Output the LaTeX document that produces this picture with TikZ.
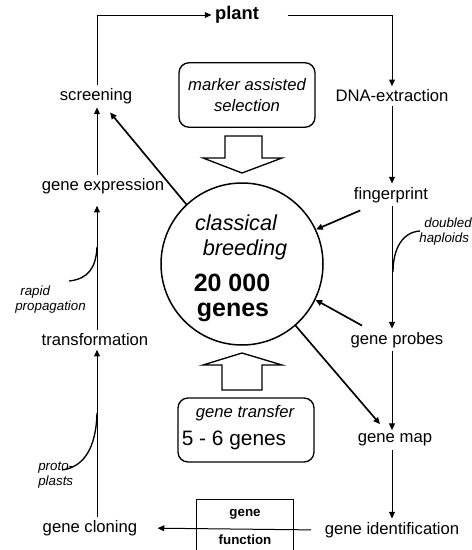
\documentclass[tikz,border=0pt]{standalone}
\usepackage{fontspec}
\setmainfont{Liberation Sans}
\usetikzlibrary{arrows.meta,positioning}

\tikzset{
  lbl/.style={font=\fontsize{10}{12}\selectfont, inner sep=2pt},
  note/.style={font=\fontsize{8}{9}\selectfont\itshape, align=left, inner sep=0pt, anchor=west},
  circtext/.style={inner sep=0pt},
  arr/.style={-{Triangle[length=4pt,width=3.5pt]}, line width=0.6pt},
  thickarr/.style={arr, line width=1pt},
  roundbox/.style={draw, rounded corners=6pt, line width=0.8pt, minimum width=81.6pt, minimum height=38.7pt, inner sep=0pt},
  hollow/.style={draw, line width=0.8pt, fill=white},
}

\begin{document}
\begin{tikzpicture}[x=0.6pt, y=-0.6pt]
\useasboundingbox (0,0) rectangle (472,550);
% columns of the cycle
\coordinate (left) at (97,0);
\coordinate (right) at (392,0);
\node[lbl] (plant) at (237,15) {\bfseries\fontsize{11}{13}\selectfont plant};
\node[lbl] (screening) at (96,96) {screening};
\node[lbl] (dna) at (392,96) {DNA-extraction};
\node[lbl] (fingerprint) at (391,195) {fingerprint};
\node[lbl] (expression) at (103,186) {gene expression};
\node[lbl] (transformation) at (95,340) {transformation};
\node[lbl] (probes) at (397,340) {gene probes};
\node[lbl] (genemap) at (395,440) {gene map};
\node[lbl] (identification) at (392,530) {gene identification};
\node[lbl] (cloning) at (90,528) {gene cloning};

% central circle
\node[circle, draw, line width=0.9pt, minimum size=97.2pt, inner sep=0pt] (breeding) at (242,264) {};
\node[circtext, font=\fontsize{13}{15}\selectfont\itshape] at (236,223) {classical};
\node[circtext, font=\fontsize{13}{15}\selectfont\itshape] at (245,250) {breeding};
\node[circtext, font=\fontsize{15}{17}\selectfont\bfseries] at (232,283) {20 000};
\node[circtext, font=\fontsize{15}{17}\selectfont\bfseries] at (233,312) {genes};

% boxes above and below
\node[roundbox, align=center, font=\fontsize{10}{12}\selectfont\itshape] (marker) at (247,95) {marker assisted\\[1pt]selection};
\node[roundbox, minimum height=38.4pt] (transfer) at (246,430) {};
\node[circtext, font=\fontsize{10}{12}\selectfont\itshape] at (245,413) {gene transfer};
\node[circtext, font=\fontsize{12.5}{14}\selectfont] at (234,440) {5 - 6 genes};

% hollow arrows
\draw[hollow] (225,136) -- (225,158) -- (203,158) -- (242,173) -- (282,158) -- (262,158) -- (262,136) -- cycle;
\draw[hollow] (222,390) -- (222,365) -- (203,365) -- (242,353) -- (282,365) -- (262,365) -- (262,390) -- cycle;

% gene / function box
\node[inner sep=0pt, minimum width=57.6pt, minimum height=32.4pt, align=center, font=\fontsize{8}{9}\selectfont\bfseries] (fnbox) at (245,527) {gene\\[8pt]function};
\draw[line width=0.7pt] (fnbox.south west) -- (fnbox.north west) -- (fnbox.north east) -- (fnbox.south east);

% cycle
\draw[arr] (screening.north -| left) |- (plant.west);
\draw[arr, shorten <=15pt] (plant.east) -| (dna.north -| right);
\draw[arr] (dna.south -| right) -- (fingerprint.north -| right);
\draw[arr] (fingerprint.south -| right) -- (probes.north -| right);
\draw[arr] (probes.south -| right) -- (genemap.north -| right);
\draw[arr] (genemap.south -| right) -- (identification.north -| right);
\draw[arr, shorten <=6pt, shorten >=10pt] (identification.west) -- (cloning.east);
\draw[arr] (cloning.north -| left) -- (transformation.south -| left);
\draw[arr, shorten >=5pt] (transformation.north -| left) -- (expression.south -| left);
\draw[arr] (expression.north -| left) -- (screening.south -| left);

% links with the circle
\draw[thickarr] (breeding.133) -- ([shift={(14,5)}]screening.south);
\draw[thickarr] ([shift={(10,4)}]fingerprint.south west) -- (breeding.25);
\draw[thickarr] ([shift={(15,-3)}]probes.north west) -- (breeding.-26);
\draw[thickarr] (breeding.-49) -- ([shift={(-15,-6)}]genemap.north);

% side notes
\node[note] (rapid) at (15,300) {\hspace{3pt}rapid\\propagation};
\node[note] (proto) at (38,475) {proto-\\plasts};
\node[note] (haploids) at (419,232) {\hspace{3pt}doubled\\haploids};
\draw[line width=0.8pt] (97,247) .. controls (96,268) and (88,279) .. (69,281);
\draw[line width=0.8pt] (97,413) .. controls (96,448) and (84,467) .. (62,470);
\draw[line width=0.8pt] (393,272) .. controls (393,248) and (403,232) .. (420,231);
\end{tikzpicture}
\end{document}
